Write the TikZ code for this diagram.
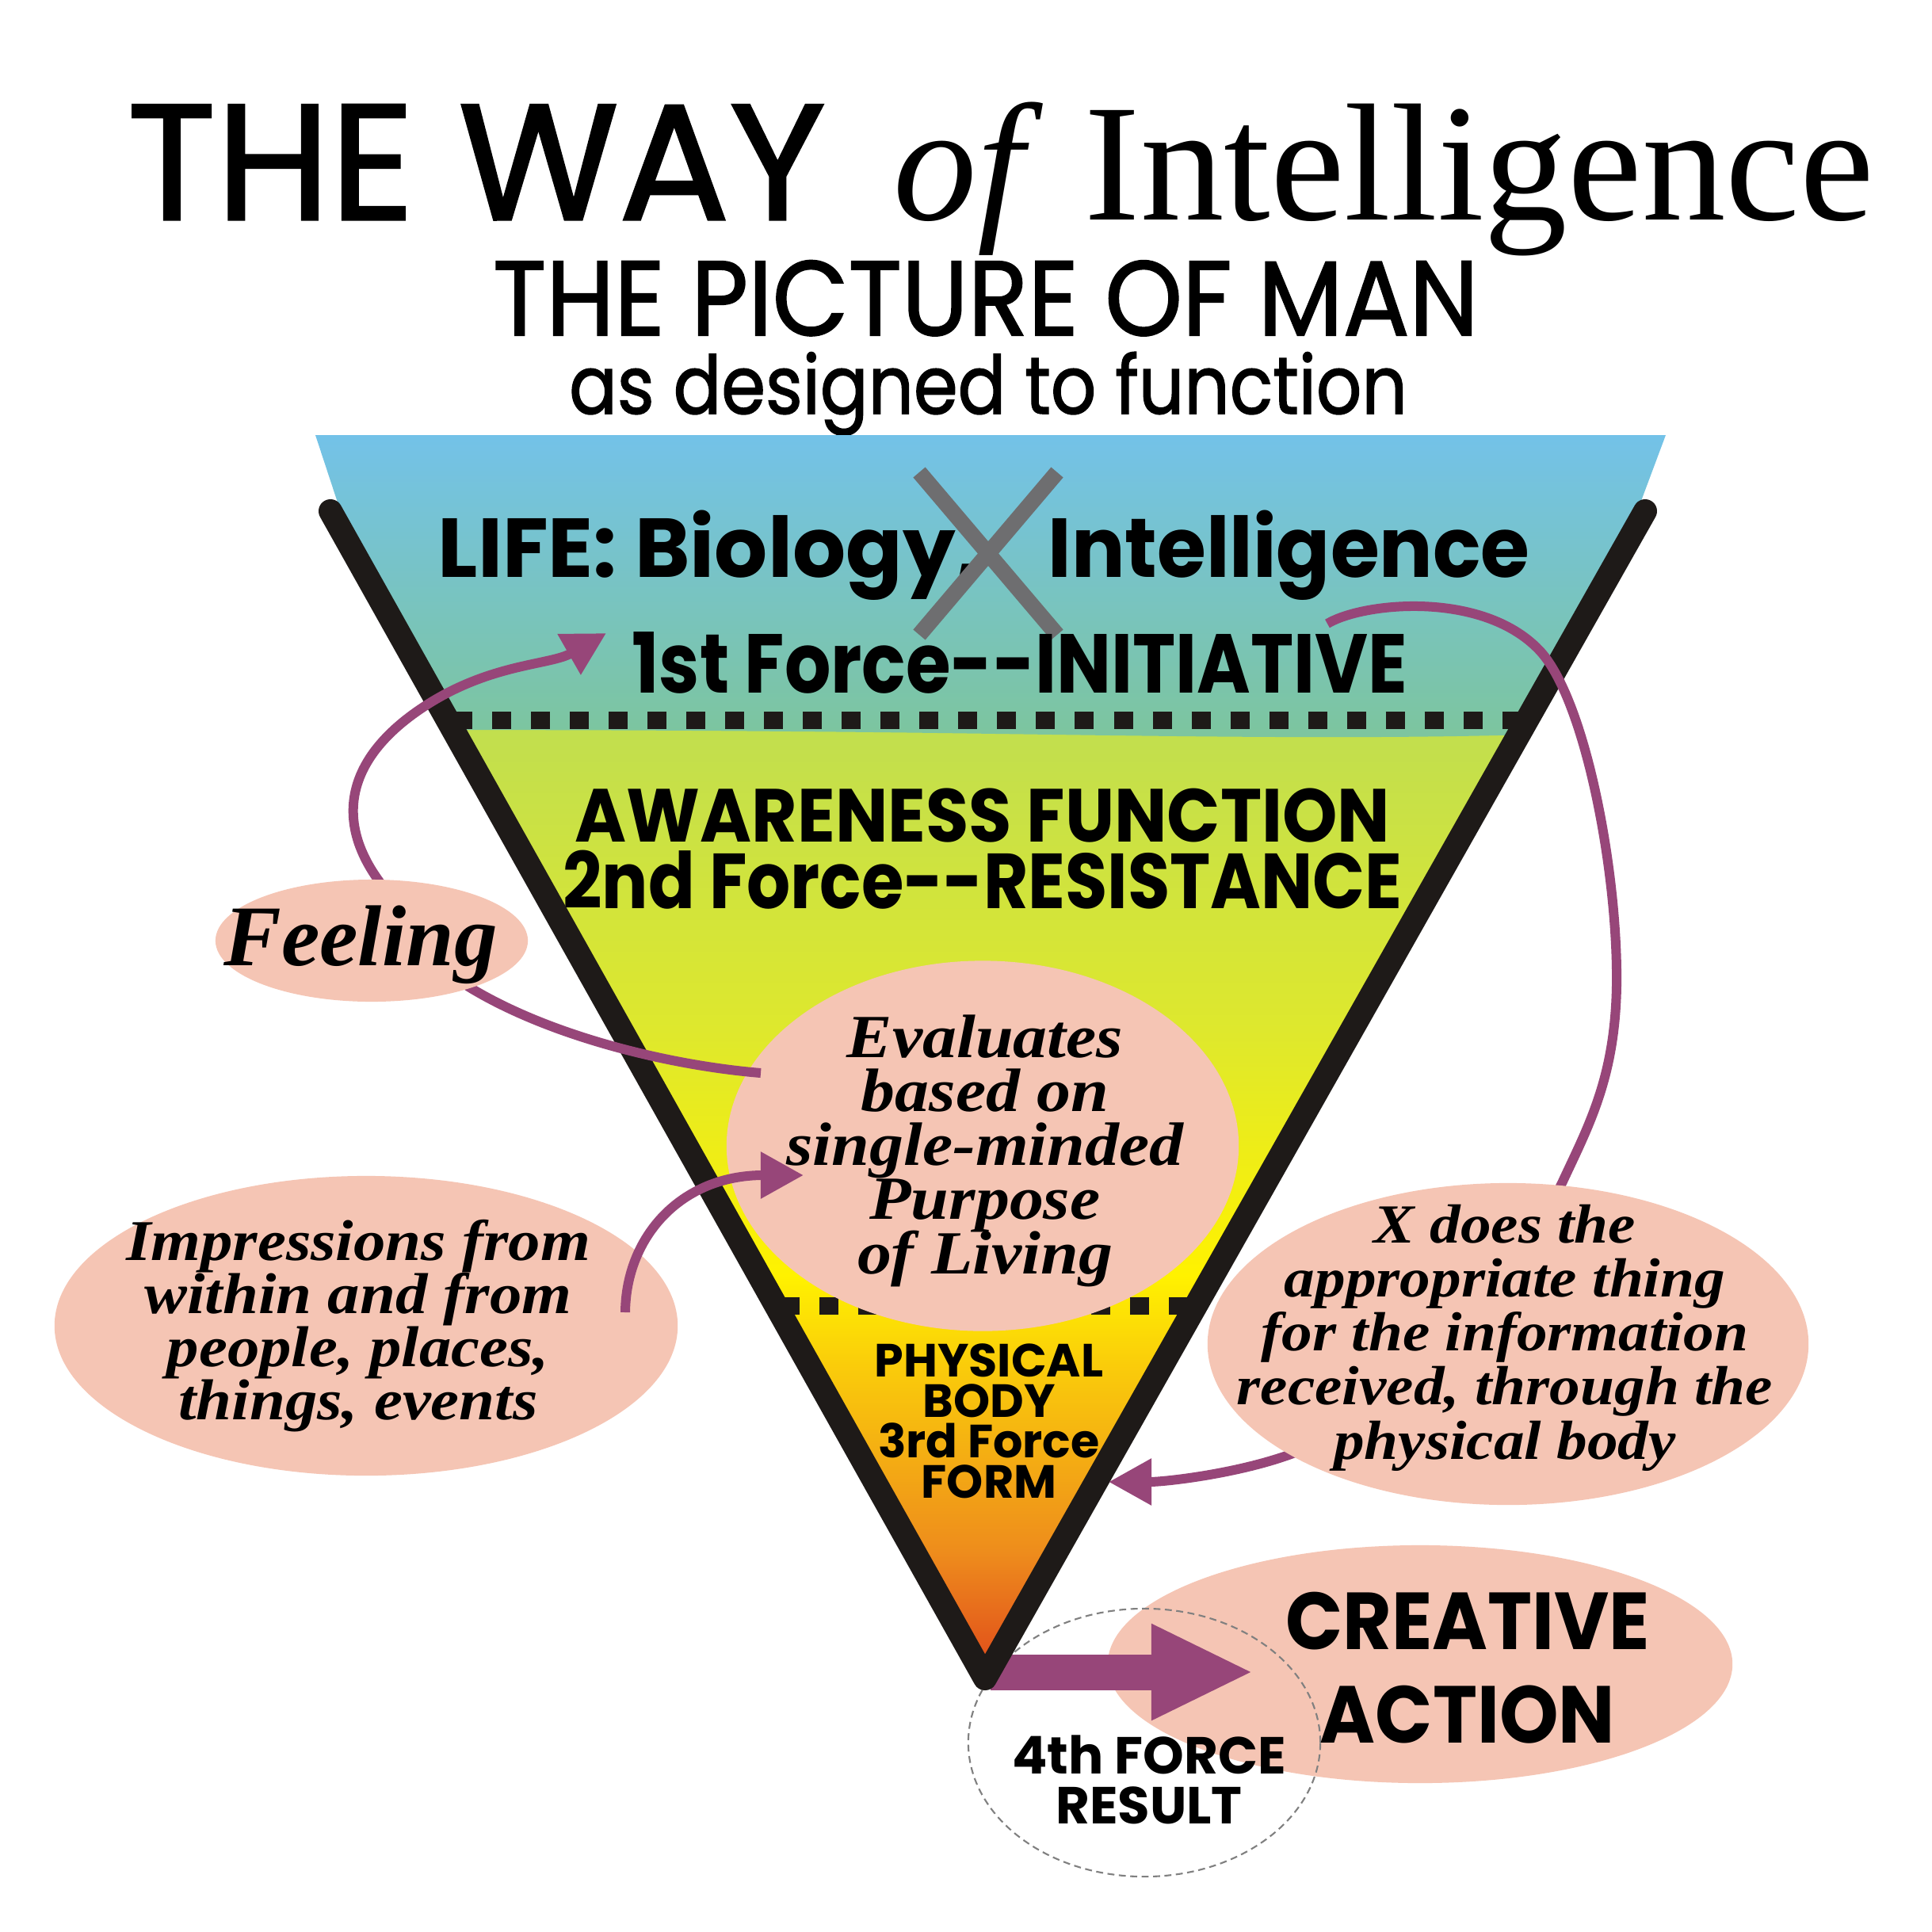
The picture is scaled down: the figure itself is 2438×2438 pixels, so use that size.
\documentclass[tikz,border=0pt]{standalone}
\usepackage{graphicx}
\usepackage{fontspec}
\setmainfont{Liberation Serif}
\newfontfamily\headfont{Poppins}
\newfontfamily\titlefont{Poppins}[FakeBold=1.5]
\newfontfamily\brushfont{Liberation Serif}
\usetikzlibrary{arrows.meta,shapes.geometric}

\definecolor{bubblepink}{RGB}{245,197,180}
\definecolor{plum}{RGB}{151,70,121}
\definecolor{vblack}{RGB}{30,26,24}
\definecolor{crossgrey}{RGB}{110,110,112}
\definecolor{skytop}{RGB}{115,194,234}
\definecolor{tealband}{RGB}{125,197,156}
\definecolor{greenband}{RGB}{192,222,80}
\definecolor{limeband}{RGB}{222,232,45}
\definecolor{yellowband}{RGB}{255,242,0}
\definecolor{goldband}{RGB}{250,205,10}
\definecolor{orangeband}{RGB}{238,140,28}
\definecolor{redband}{RGB}{222,66,27}

\newcommand{\squeeze}[2]{\scalebox{#1}[1]{#2}}
\newcommand{\wide}[1]{\scalebox{1.11}[1]{#1}}

\begin{document}
\lineskiplimit=-100pt
\begin{tikzpicture}[x=0.01cm, y=0.01cm,
    every node/.style={anchor=center, inner sep=0pt},
    bubble/.style={ellipse, fill=bubblepink, inner sep=0pt},
    brush/.style={font=\brushfont\bfseries\itshape\fontsize{22}{19.4}\selectfont, align=center},
    band/.style={font=\headfont\bfseries\fontsize{30}{30}\selectfont},
    dots/.style={vblack, line width=0.22cm, dash pattern=on 0.24cm off 0.25cm},
    vline/.style={vblack, line width=0.3cm, line cap=round, line join=round},
    arrow/.style={plum, line width=0.12cm, -{Triangle[length=0.54cm,width=0.56cm]}}
    ]

\useasboundingbox (0,0) rectangle (2438,-2438);
\fill[white] (0,0) rectangle (2438,-2438);

% Title
\node[anchor=base west, font=\titlefont\fontsize{59}{59}\selectfont] (way) at (160,-277) {THE WAY};
\node[anchor=base west, font=\fontsize{60}{60}\selectfont] (intelli) at (1127,-277) {\textit{of} Intelligence};
\node[anchor=base, font=\titlefont\fontsize{38}{38}\selectfont] (picture) at (1244,-423) {\squeeze{0.93}{THE PICTURE OF MAN}};
\node[anchor=base, font=\titlefont\fontsize{29}{29}\selectfont] (designed) at (1247,-522) {\squeeze{0.88}{as designed to function}};

% Colour bands of the triangle
\begin{scope}
\clip (398,-549) -- (2102,-549) -- (2068,-640) -- (1243,-2118) -- (428,-640) -- cycle;
\shade[top color=greenband, bottom color=limeband] (380,-900) rectangle (2120,-1300);
\shade[top color=limeband, bottom color=yellowband] (380,-1299) rectangle (2120,-1610);
\shade[top color=yellowband, bottom color=goldband] (380,-1609) rectangle (2120,-1720);
\shade[top color=goldband, bottom color=orangeband] (380,-1719) rectangle (2120,-1960);
\shade[top color=orangeband, bottom color=redband] (380,-1959) rectangle (2120,-2130);
\shade[top color=skytop, bottom color=tealband] (380,-540) -- (2120,-540) -- (2120,-918)
    .. controls (1800,-940) and (1400,-926) .. (1000,-923)
    .. controls (800,-921) and (600,-921) .. (380,-921) -- cycle;
\end{scope}

% Separators
\coordinate (sepL1) at (572,-909);
\coordinate (sepR1) at (1925,-909);
\coordinate (sepL2) at (985,-1648);
\coordinate (sepR2) at (1510,-1648);
\draw[dots] (sepL1) -- (sepR1);
\draw[dots] (sepL2) -- (sepR2);

% First force
\node[band, anchor=base west] (life) at (552,-728) {LIFE: Biology,};
\node[band, anchor=base west] (intel) at (1322,-728) {\squeeze{0.95}{Intelligence}};
\draw[crossgrey, line width=0.2cm] (1160,-596) -- (1334,-801);
\draw[crossgrey, line width=0.2cm] (1334,-596) -- (1160,-801);
\node[band, anchor=base] (init) at (1287,-874) {\squeeze{0.87}{1st Force-\kern0pt-INITIATIVE}};

% Second force
\node[band, anchor=base, font=\headfont\bfseries\fontsize{27}{27}\selectfont] (aware) at (1240,-1062) {\squeeze{0.93}{AWARENESS FUNCTION}};
\node[band, anchor=base, font=\headfont\bfseries\fontsize{28}{28}\selectfont] (resist) at (1240,-1146) {\squeeze{0.88}{2nd Force-\kern0pt-RESISTANCE}};

\node[bubble, minimum width=6.46cm, minimum height=4.67cm] (evalbub) at (1240,-1446) {};
\node[brush] (evaltxt) at (1243,-1452) {\wide{Evaluates}\\\wide{based on}\\\wide{single-minded}\\\wide{Purpose}\\\wide{of Living}};

% Third force
\node[align=center, font=\headfont\bfseries\fontsize{16.7}{14.5}\selectfont] (body) at (1248,-1793) {PHYSICAL\\BODY\\3rd Force\\FORM};

% Fourth force
\coordinate (apex) at (1243,-2118);
\coordinate (resbase) at (1250,-2110);
\coordinate (restip) at (1582,-2110);
\node[bubble, minimum width=7.88cm, minimum height=3.0cm] (createbub) at (1792,-2100) {};
\node[ellipse, draw=gray, line width=0.6pt, dash pattern=on 2.5pt off 1.6pt, minimum width=4.44cm, minimum height=3.38cm] (resultbub) at (1444,-2199) {};
\draw[plum, line width=0.45cm, -{Triangle[length=1.29cm,width=1.12cm]}] (resbase) -- (restip);
\node[align=center, font=\headfont\bfseries\fontsize{29}{33.6}\selectfont] (create) at (1852,-2105) {\squeeze{0.93}{CREATIVE}\\\squeeze{0.93}{ACTION}};
\node[align=center, font=\headfont\bfseries\fontsize{18.7}{17.9}\selectfont] (result) at (1450,-2246) {4th FORCE\\RESULT};

% The V
\coordinate (vtopL) at (417,-645);
\coordinate (vtopR) at (2076,-645);
\draw[vline] (vtopL) -- (apex) -- (vtopR);

% Feeling loop
\coordinate (fa0) at (960,-1354);
\coordinate (fa1) at (596,-1248);
\coordinate (fa2) at (477,-1110);
\coordinate (fa3) at (544,-886);
\coordinate (fatip) at (765,-799);
\draw[arrow] (fa0) .. controls (850,-1345) and (700,-1310) .. (fa1)
    .. controls (544,-1217) and (517,-1166) .. (fa2)
    .. controls (420,-1030) and (440,-950) .. (fa3)
    .. controls (624,-837) and (695,-839) .. (fatip);
\node[bubble, minimum width=3.94cm, minimum height=1.54cm] (feelbub) at (469,-1187) {};
\node[brush, font=\brushfont\bfseries\itshape\fontsize{31}{31}\selectfont] (feeltxt) at (455,-1192) {Feeling};

% Impressions
\node[bubble, minimum width=7.86cm, minimum height=3.78cm] (impbub) at (462,-1673) {};
\node[brush, font=\brushfont\bfseries\itshape\fontsize{20.7}{19}\selectfont] (imptxt) at (452,-1673) {\wide{Impressions from}\\\wide{within and from}\\\wide{people, places,}\\\wide{things, events}};
\coordinate (ia0) at (789,-1656);
\coordinate (iatip) at (1014,-1483);
\draw[arrow] (ia0) .. controls (790,-1560) and (860,-1483) .. (iatip);

% Response loop
\coordinate (ra0) at (1675,-787);
\coordinate (ra1) at (1942,-820);
\coordinate (ra2) at (2040,-1244);
\coordinate (ra3) at (1971,-1493);
\coordinate (ra4) at (1629,-1835);
\coordinate (ratip) at (1399,-1870);
\draw[arrow] (ra0) .. controls (1720,-760) and (1870,-745) .. (ra1)
    .. controls (2000,-880) and (2042,-1100) .. (ra2)
    .. controls (2038,-1360) and (2005,-1420) .. (ra3)
    .. controls (1940,-1560) and (1698,-1810) .. (ra4)
    .. controls (1560,-1860) and (1470,-1870) .. (ratip);
\node[bubble, minimum width=7.58cm, minimum height=4.06cm] (xbub) at (1903,-1696) {};
\node[brush, font=\brushfont\bfseries\itshape\fontsize{19.8}{19.4}\selectfont] (xtxt) at (1899,-1688) {\wide{X does the}\\\wide{appropriate thing}\\\wide{for the information}\\\wide{received, through the}\\\wide{physical body}};

\end{tikzpicture}
\end{document}
